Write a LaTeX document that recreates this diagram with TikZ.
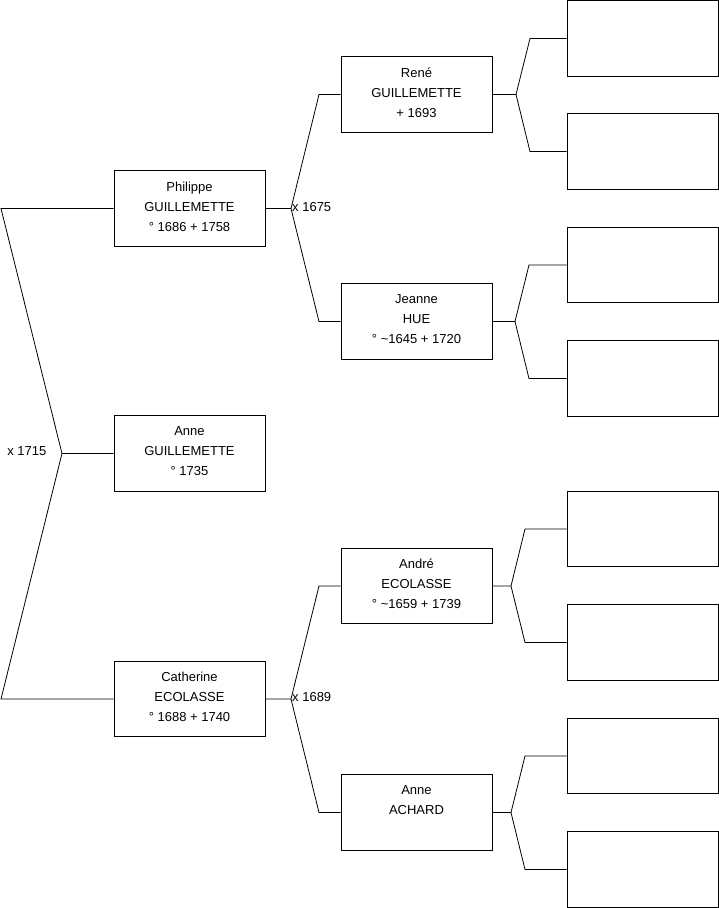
\documentclass[tikz,border=0pt]{standalone}
\usepackage{fontspec}
\setmainfont{Liberation Sans}
\begin{document}
\begin{tikzpicture}[x=1pt,y=-1pt,every node/.style={font=\fontsize{13}{20}\selectfont},
  box/.style={draw,line width=0.8pt,minimum width=151pt,minimum height=75.5pt,inner sep=0pt,align=center,text depth=4pt},
  link/.style={line width=0.8pt}]
\useasboundingbox (0,0) rectangle (719,908);
% generation 1
\node[box] (B) at (189.5,208.5) {Philippe\\GUILLEMETTE\\° 1686 + 1758};
\node[box] (A) at (189.5,453.5) {Anne\\GUILLEMETTE\\° 1735};
\node[box] (C) at (189.5,699) {Catherine\\ECOLASSE\\° 1688 + 1740};
% generation 2
\node[box] (D) at (416.5,94.5) {René\\GUILLEMETTE\\+ 1693};
\node[box] (E) at (416.5,321.5) {Jeanne\\HUE\\° \textasciitilde1645 + 1720};
\node[box] (F) at (416.5,586) {André\\ECOLASSE\\° \textasciitilde1659 + 1739};
\node[box] (G) at (416.5,812.5) {Anne\\ACHARD\\\mbox{}};
% generation 3 (empty)
\node[box] (H) at (642.5,38.5) {};
\node[box] (I) at (642.5,151.5) {};
\node[box] (J) at (642.5,265) {};
\node[box] (K) at (642.5,378.5) {};
\node[box] (L) at (642.5,529) {};
\node[box] (M) at (642.5,642.5) {};
\node[box] (N) at (642.5,756) {};
\node[box] (O) at (642.5,869.5) {};
% junctions
\coordinate (m0) at (62,453.5);
\coordinate (m1) at (291,208.5);
\coordinate (m2) at (291,699);
\coordinate (m3) at (516,94.5);
\coordinate (m4) at (515,321.5);
\coordinate (m5) at (511,586);
\coordinate (m6) at (511,812.5);
% marriages
\node[anchor=mid east,inner sep=0pt] (X0) at (46.5,453) {x 1715};
\node[anchor=mid west,inner sep=1pt] (X1) at (m1) {x 1675};
\node[anchor=mid west,inner sep=1pt] (X2) at (m2) {x 1689};
% links
\draw[link] (B.west) -- (1,208.5) -- (m0) -- (A.west);
\draw[link] (m0) -- (1,699) -- (C.west);
\draw[link] (B.east) -- (m1) -- (319,94.5) -- (D.west);
\draw[link] (m1) -- (319,321.5) -- (E.west);
\draw[link] (C.east) -- (m2) -- (319,586) -- (F.west);
\draw[link] (m2) -- (319,812.5) -- (G.west);
\draw[link] (D.east) -- (m3) -- (530,38.5) -- (H.west);
\draw[link] (m3) -- (530,151.5) -- (I.west);
\draw[link] (E.east) -- (m4) -- (529,265) -- (J.west);
\draw[link] (m4) -- (529,378.5) -- (K.west);
\draw[link] (F.east) -- (m5) -- (525,529) -- (L.west);
\draw[link] (m5) -- (525,642.5) -- (M.west);
\draw[link] (G.east) -- (m6) -- (525,756) -- (N.west);
\draw[link] (m6) -- (525,869.5) -- (O.west);
\end{tikzpicture}
\end{document}
